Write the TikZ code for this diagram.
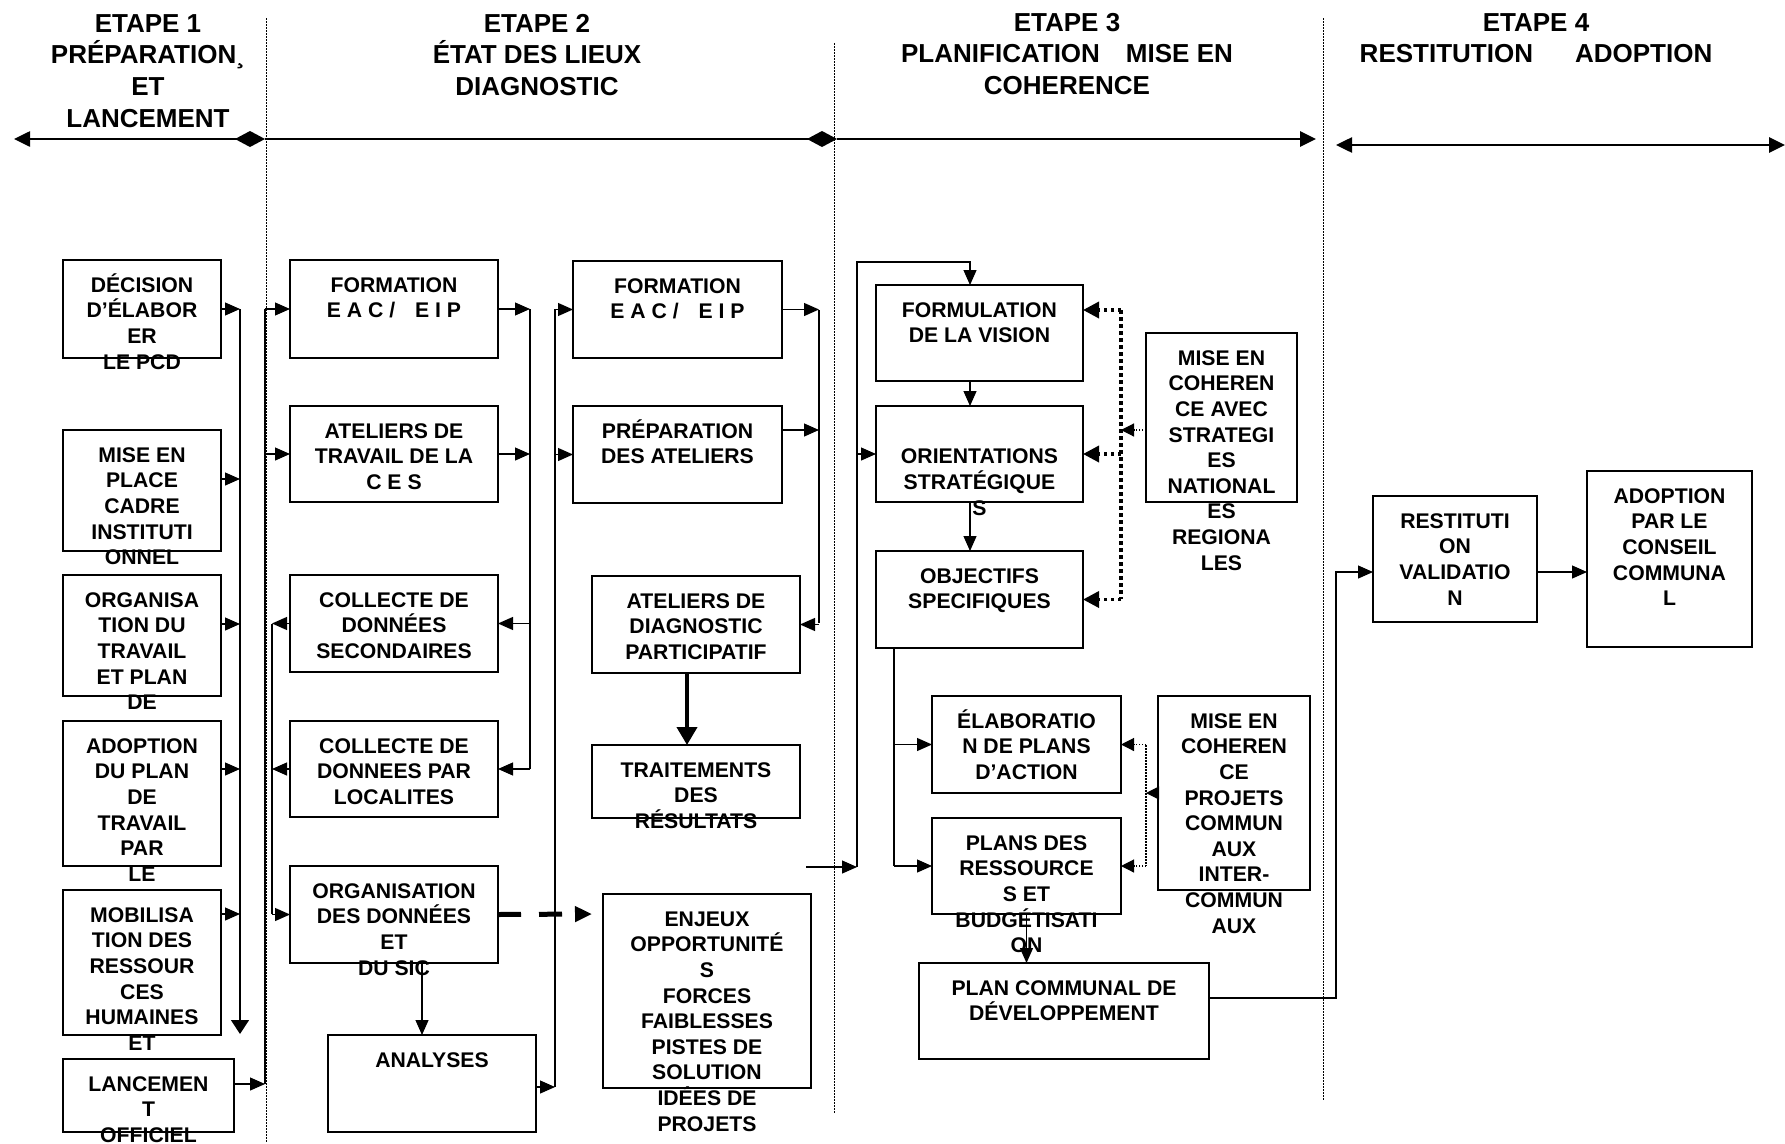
\documentclass[tikz,border=0pt]{standalone}
\usepackage{fontspec}
\setmainfont{Liberation Sans}
\usetikzlibrary{arrows.meta}
\newcommand\bxt[6]{%
  \node[box, minimum width={(#4-#2)*1pt}, minimum height={(#5-#3)*1pt}] (#1) at ({(#2+#4)/2},{(#3+#5)/2}) {};
  \node[txt] (#1t) at ({(#2+#4)/2},{#3+12}) {\rule{0pt}{20pt}#6};
}
\begin{document}
\begin{tikzpicture}[x=1pt,y=-1pt,
  box/.style={draw, fill=white, line width=1.4pt, inner sep=0pt, outer sep=0pt},
  txt/.style={font=\fontsize{21.2}{25.6}\selectfont\bfseries, align=center, inner sep=0pt, anchor=north},
  hdr/.style={font=\fontsize{26}{31.7}\selectfont\bfseries, align=center, inner sep=0pt, anchor=north},
  ln/.style={line width=1.2pt},
  arr/.style={line width=1.2pt, -{Triangle[length=15pt,width=13pt]}},
  thk/.style={line width=4pt, -{Triangle[length=18pt,width=20pt]}},
  dsh/.style={line width=5pt, dash pattern=on 23pt off 18pt, -{Triangle[length=17pt,width=15pt]}},
  tdot/.style={line width=3.5pt, dash pattern=on 3.5pt off 3.5pt},
  tdota/.style={tdot, -{Triangle[length=16pt,width=16pt]}},
  tndot/.style={line width=1.2pt, dash pattern=on 1.5pt off 1.5pt},
  dota/.style={tndot, -{Triangle[length=13pt,width=13pt]}},
  sep/.style={line width=0.8pt, dash pattern=on 1.5pt off 1.5pt},
  hline/.style={line width=2.6pt}
]
\useasboundingbox (0,0) rectangle (1785,1143);

% separators
\coordinate (s1a) at (266,18);   \coordinate (s1b) at (266,1143);
\coordinate (s2a) at (834,43);   \coordinate (s2b) at (834,1113);
\coordinate (s3a) at (1323,18);  \coordinate (s3b) at (1323,1100);
\draw[sep] (s1a) -- (s1b);
\draw[sep] (s2a) -- (s2b);
\draw[sep] (s3a) -- (s3b);

% headers
\node[hdr] (h1) at (148,8) {\rule{0pt}{24pt}ETAPE 1\\PRÉPARATION¸\\ET\\LANCEMENT};
\node[hdr] (h2) at (537,8) {\rule{0pt}{24pt}ETAPE 2\\ÉTAT DES LIEUX\\DIAGNOSTIC};
\node[hdr] (h3) at (1067,7) {\rule{0pt}{24pt}ETAPE 3\\PLANIFICATION\hspace{26pt}MISE EN\\COHERENCE};
\node[hdr] (h4) at (1536,7) {\rule{0pt}{24pt}ETAPE 4\\RESTITUTION\hspace{42pt}ADOPTION};

\coordinate (ha) at (14,139);  \coordinate (hb) at (265,139);
\coordinate (hc) at (837,139); \coordinate (hd) at (1316,139);
\coordinate (he) at (1336,145); \coordinate (hf) at (1785,145);
\draw[hline, {Triangle[length=16pt,width=15pt]}-{Diamond[length=30pt,width=16pt]}] (ha) -- (hb);
\draw[hline, -{Diamond[length=30pt,width=16pt]}] (hb) -- (hc);
\draw[hline, -{Triangle[length=16pt,width=15pt]}] (hc) -- (hd);
\draw[hline, {Triangle[length=16pt,width=15pt]}-{Triangle[length=16pt,width=15pt]}] (he) -- (hf);

% column 1
\bxt{a1}{63}{260}{221}{358}{DÉCISION\\D’ÉLABOR\\ER\\LE PCD}
\bxt{a2}{63}{430}{221}{551}{MISE EN\\PLACE\\CADRE\\INSTITUTI\\ONNEL}
\bxt{a3}{63}{575}{221}{696}{ORGANISA\\TION DU\\TRAVAIL\\ET PLAN\\DE}
\bxt{a4}{63}{721}{221}{866}{ADOPTION\\DU PLAN\\DE\\TRAVAIL\\PAR\\LE}
\bxt{a5}{63}{890}{221}{1035}{MOBILISA\\TION DES\\RESSOUR\\CES\\HUMAINES\\ET}
\bxt{a6}{63}{1059}{234}{1132}{LANCEMEN\\T\\OFFICIEL}

% column 2
\bxt{b1}{290}{260}{498}{358}{FORMATION\\E A C /\hspace{20pt}E I P}
\bxt{b2}{290}{406}{498}{502}{ATELIERS DE\\TRAVAIL DE LA\\C E S}
\bxt{b3}{290}{575}{498}{672}{COLLECTE DE\\DONNÉES\\SECONDAIRES}
\bxt{b4}{290}{721}{498}{817}{COLLECTE DE\\DONNEES PAR\\LOCALITES}
\bxt{b5}{290}{866}{498}{963}{ORGANISATION\\DES DONNÉES\\ET\\DU SIC}
\bxt{an}{328}{1035}{536}{1132}{ANALYSES}

% column 3
\bxt{c1}{573}{261}{782}{358}{FORMATION\\E A C /\hspace{20pt}E I P}
\bxt{c2}{573}{406}{782}{503}{PRÉPARATION\\DES ATELIERS}
\bxt{c3}{592}{576}{800}{673}{ATELIERS DE\\DIAGNOSTIC\\PARTICIPATIF}
\bxt{c4}{592}{745}{800}{818}{TRAITEMENTS\\DES\\RÉSULTATS}
\bxt{en}{603}{894}{811}{1088}{ENJEUX\\OPPORTUNITÉ\\S\\FORCES\\FAIBLESSES\\PISTES DE\\SOLUTION\\IDÉES DE\\PROJETS}

% column 4
\bxt{d1}{876}{285}{1083}{381}{FORMULATION\\DE LA VISION}
\bxt{d2}{876}{406}{1083}{502}{\\ORIENTATIONS\\STRATÉGIQUE\\S}
\bxt{d3}{876}{551}{1083}{648}{OBJECTIFS\\SPECIFIQUES}
\bxt{s1}{1146}{333}{1297}{502}{MISE EN\\COHEREN\\CE AVEC\\STRATEGI\\ES\\NATIONAL\\ES\\REGIONA\\LES}
\bxt{e1}{932}{696}{1121}{793}{ÉLABORATIO\\N DE PLANS\\D’ACTION}
\bxt{s2}{1158}{696}{1310}{890}{MISE EN\\COHEREN\\CE\\PROJETS\\COMMUN\\AUX\\INTER-\\COMMUN\\AUX}
\bxt{e2}{932}{818}{1121}{914}{PLANS DES\\RESSOURCE\\S ET\\BUDGÉTISATI\\ON}
\bxt{f}{919}{963}{1209}{1059}{PLAN COMMUNAL DE\\DÉVELOPPEMENT}

% column 5
\bxt{g1}{1373}{496}{1537}{622}{RESTITUTI\\ON\\VALIDATIO\\N}
\bxt{h}{1587}{471}{1752}{647}{ADOPTION\\PAR LE\\CONSEIL\\COMMUNA\\L}

% connectors column 1
\draw[line width=1.2pt, -{Triangle[length=14pt,width=18pt]}] (240,309) -- (240,1034);
\draw[arr] (a1.east) -- (a1.east -| 240,0);
\draw[arr] (a2.east |- 0,479) -- (240,479);
\draw[arr] (a3.east |- 0,624) -- (240,624);
\draw[arr] (a4.east |- 0,769) -- (240,769);
\draw[arr] (a5.east |- 0,914) -- (240,914);

% column 2 buses
\draw[ln] (265,1084) -- (265,309);
\draw[arr] (a6.east |- 0,1084) -- (265,1084);
\draw[arr] (b1.west -| 265,0) -- (b1.west);
\draw[arr] (b2.west -| 265,0) -- (b2.west);
\draw[ln] (272,624) -- (272,914);
\draw[arr] (b3.west) -- (b3.west -| 272,0);
\draw[arr] (b4.west) -- (b4.west -| 272,0);
\draw[arr] (b5.west -| 272,0) -- (b5.west);
\draw[ln] (530,309) -- (530,769);
\draw[arr] (b1.east) -- (b1.east -| 530,0);
\draw[arr] (b2.east) -- (b2.east -| 530,0);
\draw[arr] (b3.east -| 530,0) -- (b3.east);
\draw[arr] (b4.east -| 530,0) -- (b4.east);
\draw[arr] (b5.south -| 422,0) -- (an.north -| 422,0);
\coordinate (dend) at (592,914);
\draw[dsh] (b5.east) -- (dend);

% column 3
\draw[ln] (555,1087) -- (555,309);
\draw[arr] (an.east |- 0,1087) -- (555,1087);
\draw[arr] (c1.west -| 555,0) -- (c1.west);
\draw[arr] (c2.west -| 555,0) -- (c2.west);
\draw[ln] (819,310) -- (819,623);
\draw[arr] (c1.east) -- (c1.east -| 819,0);
\draw[arr] (c2.east |- 0,430) -- (819,430);
\draw[arr] (c3.east -| 819,0) -- (c3.east);
\draw[thk] (c3.south -| 687,0) -- (c4.north -| 687,0);

% column 4
\coordinate (fr) at (806,867);
\draw[arr] (fr) -- (857,867);
\draw[arr] (857,867) |- (970,262) -- (d1.north -| 970,0);
\draw[arr] (d2.west -| 857,0) -- (d2.west);
\draw[arr] (d1.south -| 970,0) -- (d2.north -| 970,0);
\draw[arr] (d2.south -| 970,0) -- (d3.north -| 970,0);
\draw[ln] (d3.south -| 894,0) -- (894,866);
\draw[arr] (e1.west -| 894,0) -- (e1.west);
\draw[arr] (e2.west -| 894,0) -- (e2.west);
\draw[tdot] (1121,310) -- (1121,599);
\draw[tdota] (1121,310) -- (d1.east |- 0,310);
\draw[tdota] (d2.east -| 1121,0) -- (d2.east);
\draw[tdota] (d3.east -| 1121,0) -- (d3.east);
\draw[dota] (s1.west |- 0,430) -- (1121,430);
\draw[tndot] (1146,745) -- (1146,866);
\draw[dota] (e1.east -| 1146,0) -- (e1.east);
\draw[dota] (e2.east -| 1146,0) -- (e2.east);
\draw[dota] (s2.west) -- (s2.west -| 1146,0);
\draw[arr] (e2.south) -- (e2.south |- f.north);

% column 5
\draw[arr] (f.east |- 0,998) -| (1336,572) -- (g1.west |- 0,572);
\draw[arr] (g1.east |- 0,572) -- (h.west |- 0,572);
\end{tikzpicture}
\end{document}
